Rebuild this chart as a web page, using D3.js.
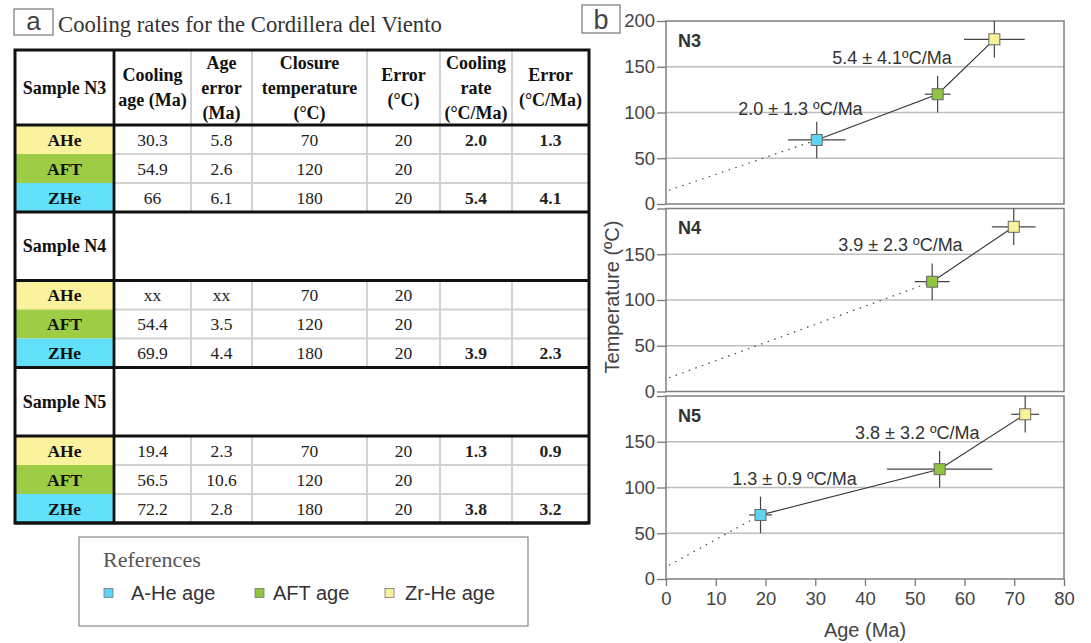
<!DOCTYPE html>
<html>
<head>
<meta charset="utf-8">
<script src="https://cdn.jsdelivr.net/npm/d3@7"></script>
<style>
  body { margin: 0; background: #fff; }
  svg { display: block; }
</style>
</head>
<body>
<svg id="canvas" width="1091" height="643"></svg>
<script>
// ---- table (panel a) ----
var methods = ['AHe', 'AFT', 'ZHe'];
var methodFill = ['#fbf29e', '#9ecc45', '#62e0f8'];
var sampleNames = ['Sample N3', 'Sample N4', 'Sample N5'];
var headerLines = [
  ['Sample N3'],
  ['Cooling', 'age (Ma)'],
  ['Age', 'error', '(Ma)'],
  ['Closure', 'temperature', '(°C)'],
  ['Error', '(°C)'],
  ['Cooling', 'rate', '(°C/Ma)'],
  ['Error', '(°C/Ma)']
];
var rowsN3 = [['30.3', '5.8', '70', '20', '2.0', '1.3'],
              ['54.9', '2.6', '120', '20', '', ''],
              ['66', '6.1', '180', '20', '5.4', '4.1']];
var rowsN4 = [['xx', 'xx', '70', '20', '', ''],
              ['54.4', '3.5', '120', '20', '', ''],
              ['69.9', '4.4', '180', '20', '3.9', '2.3']];
var rowsN5 = [['19.4', '2.3', '70', '20', '1.3', '0.9'],
              ['56.5', '10.6', '120', '20', '', ''],
              ['72.2', '2.8', '180', '20', '3.8', '3.2']];

// ---- plots (panel b) ----
var panelNames = ['N3', 'N4', 'N5'];
var ageN3 = [30.3, 54.6, 66.0], ageErrN3 = [5.8, 2.6, 6.1], tempN3 = [70, 120, 180], kindN3 = [0, 1, 2];
var ageN4 = [53.5, 69.9],       ageErrN4 = [3.5, 4.4],      tempN4 = [120, 180],     kindN4 = [1, 2];
var ageN5 = [19.0, 55.0, 72.2], ageErrN5 = [2.3, 10.6, 2.8], tempN5 = [70, 120, 180], kindN5 = [0, 1, 2];
var tempErr = 20;
var surfaceAge = 0.6, surfaceTemp = 15;
var rateTextN3 = ['2.0 ± 1.3 ºC/Ma', '5.4 ± 4.1ºC/Ma'], rateAgeN3 = [14.5, 33.4], rateTempN3 = [97.5, 153];
var rateTextN4 = ['3.9 ± 2.3 ºC/Ma'],                   rateAgeN4 = [34.6],       rateTempN4 = [153.5];
var rateTextN5 = ['1.3 ± 0.9 ºC/Ma', '3.8 ± 3.2 ºC/Ma'], rateAgeN5 = [13.3, 38],  rateTempN5 = [102.5, 153.5];
var markerFill = ['#5ed6f3', '#8fc63f', '#f9f29a'];
var legendLabels = ['A-He age', 'AFT age', 'Zr-He age'];
var yTicks = [0, 50, 100, 150, 200];
var xTicks = [0, 10, 20, 30, 40, 50, 60, 70, 80];

var SERIF = 'Liberation Serif, Times New Roman, serif';
var SANS = 'Liberation Sans, Arial, sans-serif';

var svg = d3.select('svg#canvas');
svg.append('rect').attr('width', 1091).attr('height', 643).attr('fill', '#fff');

// ===== panel a : title =====
svg.append('rect').attr('x', 14).attr('y', 9).attr('width', 39).attr('height', 26)
  .attr('fill', 'none').attr('stroke', '#777').attr('stroke-width', 1.2);
svg.append('text').attr('x', 33.5).attr('y', 30).attr('text-anchor', 'middle')
  .attr('font-family', SANS).attr('font-size', 26).attr('fill', '#444').text('a');
svg.append('text').attr('x', 58).attr('y', 31.5)
  .attr('font-family', SERIF).attr('font-size', 22.7).attr('fill', '#333')
  .text('Cooling rates for the Cordillera del Viento');

// ===== panel a : table =====
var colX = [15, 114, 191, 252, 367, 440, 512, 589];
var tableTop = 50;
var rowDefs = [{type: 'header', h: 75}];
[rowsN3, rowsN4, rowsN5].forEach(function(rows, s) {
  if (s > 0) rowDefs.push({type: 'sample', h: 68.5, label: sampleNames[s]});
  rows.forEach(function(r, i) { rowDefs.push({type: 'data', h: 29, cells: r, m: i}); });
});
var yy = tableTop;
rowDefs.forEach(function(r) { r.y0 = yy; yy += r.h; r.y1 = yy; });
var tableBottom = yy;

var tbl = svg.append('g');
var dataRows = rowDefs.filter(function(r) { return r.type === 'data'; });

// coloured method cells
tbl.selectAll('rect.method').data(dataRows).enter().append('rect')
  .attr('x', colX[0]).attr('y', function(d) { return d.y0; })
  .attr('width', colX[1] - colX[0]).attr('height', function(d) { return d.h; })
  .attr('fill', function(d) { return methodFill[d.m]; });

// light grid
var light = tbl.append('g').attr('stroke', '#d2d2d2').attr('stroke-width', 2);
rowDefs.filter(function(r) { return r.type !== 'sample'; }).forEach(function(r) {
  colX.slice(2, 7).forEach(function(cx) {
    light.append('line').attr('x1', cx).attr('x2', cx).attr('y1', r.y0).attr('y2', r.y1);
  });
});
dataRows.filter(function(r) { return r.m < 2; }).forEach(function(r) {
  light.append('line').attr('x1', colX[1]).attr('x2', colX[7]).attr('y1', r.y1).attr('y2', r.y1);
});

// heavy lines
var heavy = tbl.append('g').attr('stroke', '#111').attr('stroke-width', 2.8).attr('fill', 'none');
rowDefs.forEach(function(r) {
  if (r.type === 'header' || r.type === 'sample' || r.m === 2) {
    heavy.append('line').attr('x1', colX[0]).attr('x2', colX[7]).attr('y1', r.y1).attr('y2', r.y1);
  }
});
heavy.append('line').attr('x1', colX[1]).attr('x2', colX[1]).attr('y1', tableTop).attr('y2', tableBottom);
heavy.append('rect').attr('x', colX[0]).attr('y', tableTop)
  .attr('width', colX[7] - colX[0]).attr('height', tableBottom - tableTop).attr('stroke-width', 3);

// header text
var hdr = rowDefs[0];
headerLines.forEach(function(lines, c) {
  var cx = (colX[c] + colX[c + 1]) / 2;
  var cy = (hdr.y0 + hdr.y1) / 2;
  lines.forEach(function(t, k) {
    tbl.append('text').attr('x', cx)
      .attr('y', cy + (k - (lines.length - 1) / 2) * 25 + 6)
      .attr('text-anchor', 'middle').attr('font-family', SERIF).attr('font-weight', 'bold')
      .attr('font-size', 18).attr('fill', '#111').text(t);
  });
});

// sample labels
rowDefs.filter(function(r) { return r.type === 'sample'; }).forEach(function(r) {
  tbl.append('text').attr('x', (colX[0] + colX[1]) / 2).attr('y', (r.y0 + r.y1) / 2 + 6)
    .attr('text-anchor', 'middle').attr('font-family', SERIF).attr('font-weight', 'bold')
    .attr('font-size', 18).attr('fill', '#111').text(r.label);
});

// data rows
dataRows.forEach(function(r) {
  var cy = (r.y0 + r.y1) / 2 + 6;
  tbl.append('text').attr('x', (colX[0] + colX[1]) / 2).attr('y', cy)
    .attr('text-anchor', 'middle').attr('font-family', SERIF).attr('font-weight', 'bold')
    .attr('font-size', 17.5).attr('fill', '#111').text(methods[r.m]);
  r.cells.forEach(function(t, c) {
    tbl.append('text').attr('x', (colX[c + 1] + colX[c + 2]) / 2).attr('y', cy)
      .attr('text-anchor', 'middle').attr('font-family', SERIF)
      .attr('font-weight', c >= 4 ? 'bold' : 'normal')
      .attr('font-size', 17.5).attr('fill', '#222').text(t);
  });
});

// legend
var lg = svg.append('g');
lg.append('rect').attr('x', 79).attr('y', 537).attr('width', 449).attr('height', 89)
  .attr('fill', 'none').attr('stroke', '#888').attr('stroke-width', 1.2);
lg.append('text').attr('x', 103).attr('y', 567).attr('font-family', SERIF).attr('font-size', 22)
  .attr('fill', '#555').text('References');
var legendX = [104, 255, 385];
var legendTextX = [131, 273, 405];
legendLabels.forEach(function(t, i) {
  lg.append('rect').attr('x', legendX[i]).attr('y', 588.5).attr('width', 9).attr('height', 9)
    .attr('fill', markerFill[i]).attr('stroke', '#777').attr('stroke-width', 0.8);
  lg.append('text').attr('x', legendTextX[i]).attr('y', 600).attr('font-family', SANS)
    .attr('font-size', 20).attr('fill', '#333').text(t);
});

// ===== panel b =====
svg.append('rect').attr('x', 582).attr('y', 5).attr('width', 38).attr('height', 28)
  .attr('fill', '#fff').attr('stroke', '#777').attr('stroke-width', 1.2);
svg.append('text').attr('x', 601).attr('y', 29).attr('text-anchor', 'middle')
  .attr('font-family', SANS).attr('font-size', 27).attr('fill', '#444').text('b');

var x = d3.scaleLinear().domain([0, 80]).range([666, 1064]);
var panelTops = [21, 208.5, 396], panelH = 183;
var panelData = [
  {age: ageN3, err: ageErrN3, temp: tempN3, kind: kindN3, txt: rateTextN3, ta: rateAgeN3, tt: rateTempN3},
  {age: ageN4, err: ageErrN4, temp: tempN4, kind: kindN4, txt: rateTextN4, ta: rateAgeN4, tt: rateTempN4},
  {age: ageN5, err: ageErrN5, temp: tempN5, kind: kindN5, txt: rateTextN5, ta: rateAgeN5, tt: rateTempN5}
];

panelData.forEach(function(p, i) {
  var y = d3.scaleLinear().domain([0, 200]).range([panelTops[i] + panelH, panelTops[i]]);
  var g = svg.append('g');

  g.selectAll('line.grid').data([50, 100, 150]).enter().append('line')
    .attr('x1', x(0)).attr('x2', x(80))
    .attr('y1', function(d) { return y(d); }).attr('y2', function(d) { return y(d); })
    .attr('stroke', '#bdbdbd').attr('stroke-width', 1.6);

  g.append('rect').attr('x', x(0)).attr('y', y(200))
    .attr('width', x(80) - x(0)).attr('height', y(0) - y(200))
    .attr('fill', 'none').attr('stroke', '#808080').attr('stroke-width', 1.5);

  var yAxis = d3.axisLeft(y).tickValues(yTicks).tickSize(9).tickPadding(2)
    .tickFormat(function(d) { return (d === 200 && i > 0) ? '' : d; });
  var ag = g.append('g').attr('transform', 'translate(' + x(0) + ',0)').call(yAxis);
  ag.select('.domain').remove();
  ag.selectAll('line').attr('stroke', '#777').attr('stroke-width', 1.3);
  ag.selectAll('text').attr('font-family', SANS).attr('font-size', 18.5).attr('fill', '#444');

  if (i === 2) {
    var xAxis = d3.axisBottom(x).tickValues(xTicks).tickSize(7).tickPadding(6);
    var xg = g.append('g').attr('transform', 'translate(0,' + y(0) + ')').call(xAxis);
    xg.select('.domain').remove();
    xg.selectAll('line').attr('stroke', '#777').attr('stroke-width', 1.3);
    xg.selectAll('text').attr('font-family', SANS).attr('font-size', 18.5).attr('fill', '#444');
  }

  g.append('text').attr('x', x(2.4)).attr('y', panelTops[i] + 25.5)
    .attr('font-family', SANS).attr('font-weight', 'bold').attr('font-size', 18)
    .attr('fill', '#333').text(panelNames[i]);

  var pts = p.age.map(function(a, k) { return [a, p.temp[k]]; });

  // dotted extrapolation to the surface
  g.append('line').attr('x1', x(surfaceAge)).attr('y1', y(surfaceTemp))
    .attr('x2', x(pts[0][0])).attr('y2', y(pts[0][1]))
    .attr('stroke', '#444').attr('stroke-width', 1.2).attr('stroke-dasharray', '1.5,5.5');

  g.append('path').datum(pts)
    .attr('d', d3.line().x(function(d) { return x(d[0]); }).y(function(d) { return y(d[1]); }))
    .attr('fill', 'none').attr('stroke', '#333').attr('stroke-width', 1.1);

  // error bars
  pts.forEach(function(d, k) {
    g.append('line').attr('x1', x(d[0] - p.err[k])).attr('x2', x(d[0] + p.err[k]))
      .attr('y1', y(d[1])).attr('y2', y(d[1])).attr('stroke', '#444').attr('stroke-width', 1.2);
    g.append('line').attr('x1', x(d[0])).attr('x2', x(d[0]))
      .attr('y1', y(d[1] - tempErr)).attr('y2', y(d[1] + tempErr))
      .attr('stroke', '#444').attr('stroke-width', 1.2);
  });

  g.selectAll('rect.pt').data(pts).enter().append('rect')
    .attr('x', function(d) { return x(d[0]) - 5.5; })
    .attr('y', function(d) { return y(d[1]) - 5.5; })
    .attr('width', 11).attr('height', 11)
    .attr('fill', function(d, k) { return markerFill[p.kind[k]]; })
    .attr('stroke', '#666').attr('stroke-width', 1);

  p.txt.forEach(function(t, k) {
    g.append('text').attr('x', x(p.ta[k])).attr('y', y(p.tt[k]))
      .attr('font-family', SANS).attr('font-size', 18).attr('fill', '#333').text(t);
  });
});

svg.append('text').attr('transform', 'translate(619,297) rotate(-90)')
  .attr('text-anchor', 'middle').attr('font-family', SANS).attr('font-size', 20)
  .attr('fill', '#444').text('Temperature (ºC)');
svg.append('text').attr('x', x(40)).attr('y', 637).attr('text-anchor', 'middle')
  .attr('font-family', SANS).attr('font-size', 20).attr('fill', '#444').text('Age (Ma)');
</script>
</body>
</html>
